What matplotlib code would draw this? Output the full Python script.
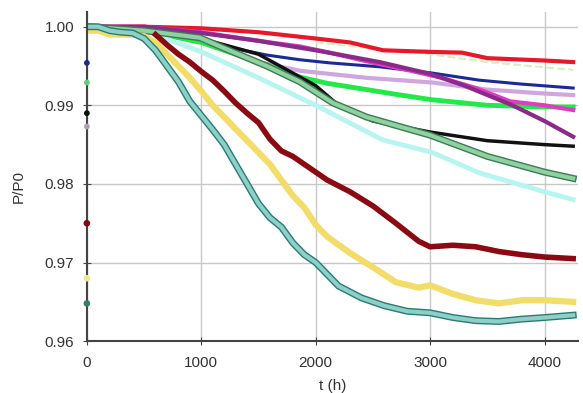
import matplotlib.pyplot as plt
import matplotlib.patheffects as pe

plt.rcParams['font.family'] = ['Liberation Sans', 'DejaVu Sans']

# value at t=0 (first reading, off the curve), then the curve itself
t_red = [0, 500, 1000, 1500, 2000, 2300, 2590, 3000, 3280, 3500, 4000, 4250]
p_red = [1.0, 1.0, 0.9998, 0.9993, 0.9985, 0.998, 0.997, 0.9968, 0.9967, 0.996, 0.9957, 0.9955]

t_pale = [2000, 2500, 3000, 3500, 4250]
p_pale = [0.998, 0.9972, 0.9965, 0.9955, 0.9945]

t_navy = [0, 500, 1000, 1336, 1572, 1860, 2122, 2560, 3020, 3430, 3800, 4250]
p_navy = [1.0, 0.9995, 0.998, 0.9971, 0.9964, 0.9958, 0.9954, 0.9949, 0.9941, 0.9932, 0.9927, 0.9922]

t_lilac = [0, 500, 1000, 1500, 1860, 2445, 3020, 3500, 4000, 4250]
p_lilac = [1.0, 0.9995, 0.998, 0.9955, 0.9944, 0.9935, 0.9929, 0.992, 0.9915, 0.9913]

t_lime = [0, 500, 1000, 1300, 1600, 1860, 2100, 2445, 2700, 3020, 3500, 4000, 4250]
p_lime = [1.0, 0.9995, 0.998, 0.9965, 0.995, 0.9936, 0.9928, 0.992, 0.9914, 0.9907, 0.99, 0.9898, 0.9898]

t_mag = [0, 500, 1000, 1275, 1600, 1860, 2122, 2445, 2800, 3100, 3400, 3700, 4000, 4250]
p_mag = [1.0, 1.0, 0.9993, 0.9987, 0.998, 0.9975, 0.9967, 0.9956, 0.9945, 0.9935, 0.9922, 0.9905, 0.99, 0.9894]

t_purp = [0, 500, 1000, 1500, 2000, 2300, 2560, 3000, 3300, 3720, 4000, 4250]
p_purp = [1.0, 1.0, 0.9992, 0.9982, 0.997, 0.9962, 0.9955, 0.994, 0.9925, 0.99, 0.988, 0.986]

t_black = [0, 500, 1000, 1500, 2000, 2200, 2500, 3000, 3500, 4000, 4250]
p_black = [1.0, 0.9995, 0.9985, 0.9965, 0.9925, 0.99, 0.988, 0.9866, 0.9855, 0.985, 0.9848]

t_sea = [0, 500, 987, 1275, 1572, 1860, 2150, 2445, 2734, 3000, 3500, 4000, 4250]
p_sea = [1.0, 0.9995, 0.9986, 0.9968, 0.995, 0.993, 0.9903, 0.9885, 0.9873, 0.9862, 0.9835, 0.9815, 0.9807]

t_cyan = [0, 500, 1000, 1500, 2000, 2585, 3020, 3430, 4000, 4250]
p_cyan = [1.0, 0.9995, 0.9968, 0.9935, 0.99, 0.9856, 0.984, 0.9814, 0.979, 0.978]

t_maroon = [0, 600, 700, 800, 900, 1000, 1100, 1200, 1300, 1400, 1500, 1600, 1700, 1800,
            1900, 2000, 2100, 2300, 2500, 2700, 2900, 3000, 3200, 3400, 3600, 3800, 4000, 4250]
p_maroon = [0.975, 0.999, 0.9977, 0.9965, 0.9955, 0.9943, 0.9932, 0.9918, 0.9903, 0.989, 0.9878,
            0.9857, 0.9842, 0.9835, 0.9825, 0.9815, 0.9805, 0.979, 0.9772, 0.975, 0.9727, 0.972,
            0.9722, 0.972, 0.9714, 0.971, 0.9707, 0.9705]

t_yel = [0, 20, 100, 200, 300, 400, 500, 600, 700, 800, 900, 1000, 1100, 1200, 1300, 1400, 1500,
         1600, 1700, 1800, 1900, 2000, 2100, 2300, 2500, 2700, 2900, 3000, 3200, 3400, 3600, 3800, 4000, 4250]
p_yel = [0.968, 0.9995, 0.9995, 0.999, 0.999, 0.999, 0.9988, 0.998, 0.9965, 0.995, 0.9935, 0.9918,
         0.99, 0.9885, 0.987, 0.9855, 0.984, 0.9825, 0.9805, 0.9785, 0.977, 0.9748, 0.9733, 0.9712,
         0.9694, 0.9675, 0.9668, 0.9671, 0.966, 0.9652, 0.9648, 0.9652, 0.9652, 0.965]

t_teal = [0, 20, 100, 200, 300, 400, 500, 600, 700, 800, 900, 1000, 1100, 1200, 1300, 1400, 1500,
          1600, 1700, 1800, 1900, 2000, 2200, 2400, 2600, 2800, 3000, 3200, 3400, 3600, 3800, 4000, 4250]
p_teal = [0.9648, 1.0, 1.0, 0.9995, 0.9993, 0.9992, 0.9985, 0.997, 0.995, 0.993, 0.9905, 0.9887,
          0.9869, 0.985, 0.9825, 0.98, 0.9775, 0.9757, 0.9745, 0.9725, 0.971, 0.97, 0.967, 0.9655,
          0.9645, 0.9638, 0.9636, 0.963, 0.9626, 0.9625, 0.9628, 0.963, 0.9633]

# first readings at t=0 that sit below 1
t0 = [0, 0, 0, 0]
p0 = [0.9954, 0.9929, 0.989, 0.9873]
c0 = ['#1f2a8a', '#5fd07a', '#111111', '#b0a0b8']

fig = plt.figure(figsize=(5.83, 3.93), dpi=100)
ax = fig.add_axes([0.149, 0.132, 0.842, 0.838])

ax.plot(t_pale, p_pale, color='#d8efc0', lw=1.5, ls='--')
ax.plot(t_red, p_red, color='#e8182c', lw=3)
ax.plot(t_navy, p_navy, color='#1c2a96', lw=2.2)
ax.plot(t_lilac, p_lilac, color='#d0a6e0', lw=3)
ax.plot(t_lime, p_lime, color='#22e84a', lw=3.5)
ax.plot(t_mag, p_mag, color='#e03cc0', lw=3)
ax.plot(t_purp, p_purp, color='#8a2a8a', lw=3)
ax.plot(t_black, p_black, color='#111111', lw=2.5)
ax.plot(t_cyan, p_cyan, color='#b8f4f0', lw=3.5)
ax.plot(t_sea, p_sea, color='#8ed2a0', lw=3,
        path_effects=[pe.Stroke(linewidth=5, foreground='#3e7a58'), pe.Normal()])
ax.plot(t_maroon[1:], p_maroon[1:], color='#8a0a14', lw=4)
ax.plot(t_yel[1:], p_yel[1:], color='#f2dc6a', lw=4.5)
ax.plot(t_teal[1:], p_teal[1:], color='#8cd0c8', lw=3,
        path_effects=[pe.Stroke(linewidth=5, foreground='#2c7a74'), pe.Normal()])

# stray first points on the y axis
ax.scatter([t_maroon[0], t_yel[0], t_teal[0]], [p_maroon[0], p_yel[0], p_teal[0]],
           c=['#7a0a1a', '#f0e890', '#3a7a70'], s=14, zorder=5, clip_on=False)
ax.scatter(t0, p0, c=c0, s=10, zorder=5, clip_on=False)

ax.set_xlim(0, 4290)
ax.set_ylim(0.96, 1.0019)
ax.set_xticks([0, 1000, 2000, 3000, 4000])
ax.set_yticks([0.96, 0.97, 0.98, 0.99, 1.00])
ax.set_yticklabels(['0.96', '0.97', '0.98', '0.99', '1.00'])
ax.grid(True, color='#c8c8c8', lw=1)
ax.set_axisbelow(True)
for s in ['top', 'right']:
    ax.spines[s].set_visible(False)
for s in ['left', 'bottom']:
    ax.spines[s].set_color('#444444')
    ax.spines[s].set_linewidth(1.5)
ax.tick_params(direction='inout', length=6, color='#444444', labelsize=11, labelcolor='#333333')
ax.tick_params(axis='x', pad=8)
ax.tick_params(axis='y', pad=6)
ax.set_xlabel('t (h)', fontsize=11, color='#333333')
ax.set_ylabel('P/P0', fontsize=11, color='#333333')
ax.xaxis.set_label_coords(0.5, -0.115)
ax.yaxis.set_label_coords(-0.125, 0.47)

fig.savefig('out.png', dpi=100)
